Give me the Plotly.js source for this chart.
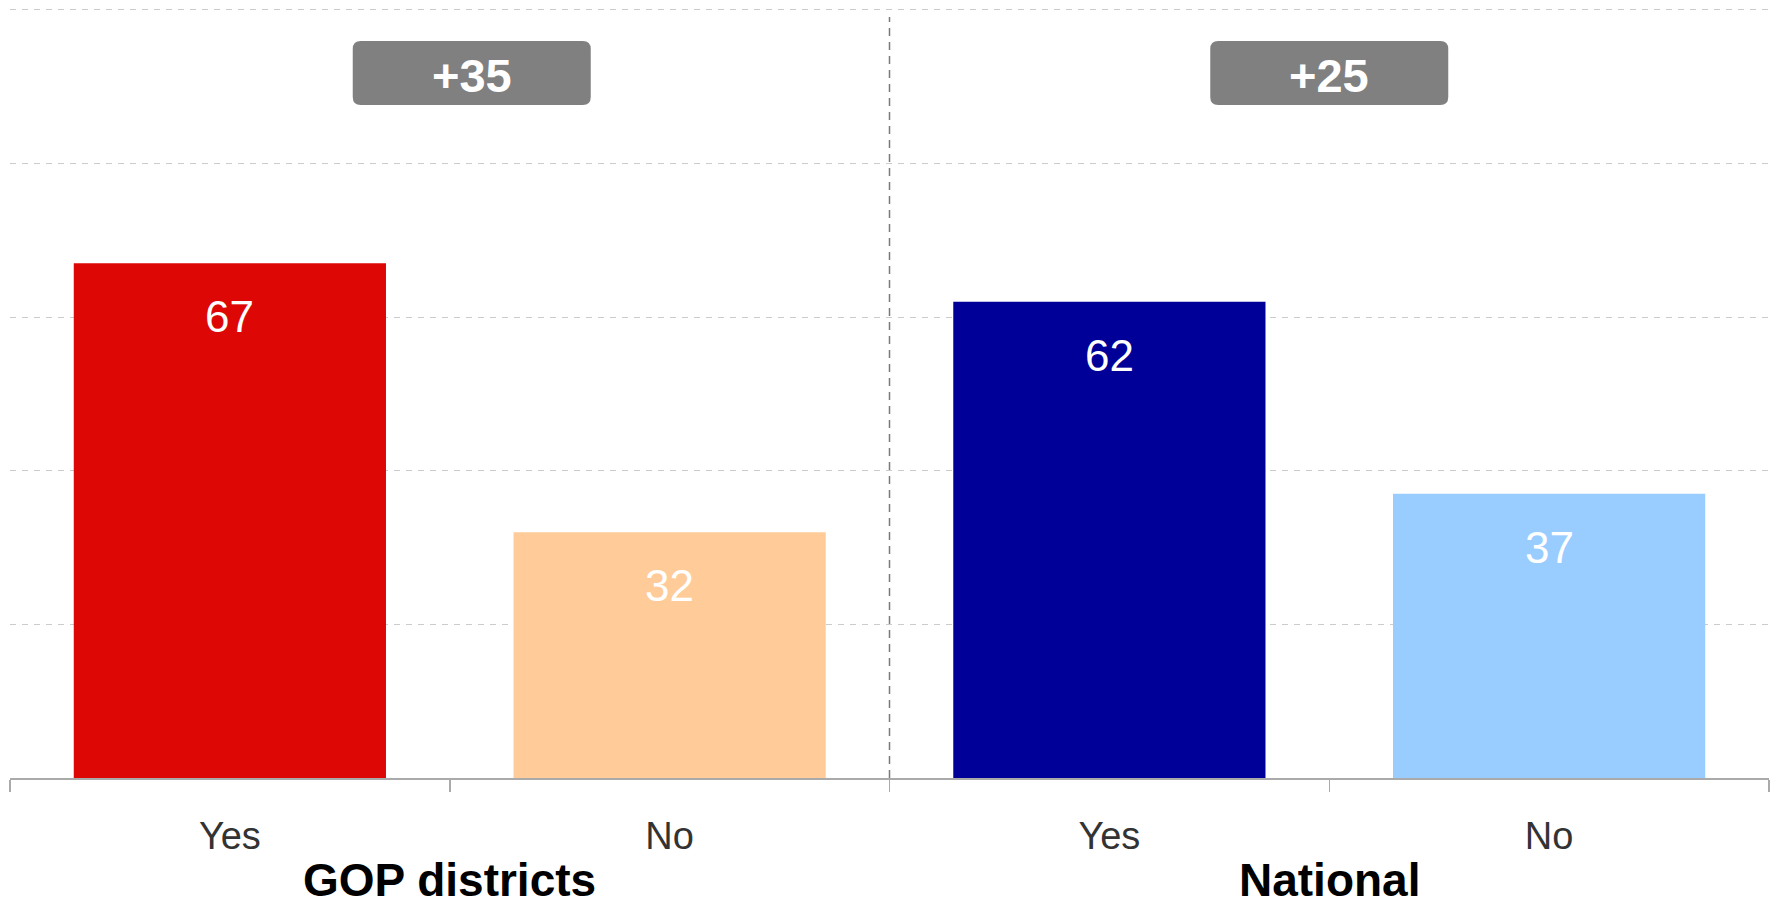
<!DOCTYPE html>
<html>
<head>
<meta charset="utf-8">
<script src="https://cdn.plot.ly/plotly-3.0.1.min.js"></script>
<style>
  html, body { margin: 0; padding: 0; background: #ffffff; }
  #chart { width: 1775px; height: 903px; }
</style>
</head>
<body>
<div id="chart"></div>
<script>
// ---- data ----
const groups = ['GOP districts', 'National'];
const answers = ['Yes', 'No'];
const gopValues = [67, 32];
const nationalValues = [62, 37];

// ---- build ----
const seriesByGroup = [gopValues, nationalValues];
const barColors = ['#DD0806', '#FFCC99', '#000099', '#99CCFF'];
const FONT = 'Liberation Sans, Arial, Helvetica, sans-serif';

const xKeys = [];
const yVals = [];
const tickText = [];
groups.forEach((g, gi) => {
  answers.forEach((a, ai) => {
    xKeys.push(g + ' ' + a);
    yVals.push(seriesByGroup[gi][ai]);
    tickText.push(a);
  });
});

const trace = {
  type: 'bar',
  x: xKeys,
  y: yVals,
  marker: { color: barColors, line: { width: 0 } },
  hoverinfo: 'skip',
  showlegend: false
};

const annotations = [];
// value labels inside bars
xKeys.forEach((k, i) => {
  annotations.push({
    x: k, y: yVals[i], xref: 'x', yref: 'y',
    text: String(yVals[i]),
    showarrow: false, yanchor: 'top', xanchor: 'center',
    yshift: -27,
    font: { family: FONT, size: 44, color: '#ffffff' }
  });
});

// group labels + difference badges
const plotBottomPx = 778, plotTopPx = 2;
const plotH = plotBottomPx - plotTopPx;
const pxToPaper = p => (plotBottomPx - p) / plotH;
const badgeCenters = [0.55, 2.5];
const groupCenters = [0.5, 2.5];
const shapes = [];
const bw = 119, bh = 32, r = 8;
const rrect = `M ${-bw + r} ${-bh} L ${bw - r} ${-bh} Q ${bw} ${-bh} ${bw} ${-bh + r} L ${bw} ${bh - r} Q ${bw} ${bh} ${bw - r} ${bh} L ${-bw + r} ${bh} Q ${-bw} ${bh} ${-bw} ${bh - r} L ${-bw} ${-bh + r} Q ${-bw} ${-bh} ${-bw + r} ${-bh} Z`;

groups.forEach((g, gi) => {
  const vals = seriesByGroup[gi];
  const diff = vals[0] - vals[1];
  annotations.push({
    x: groupCenters[gi], xref: 'x', y: pxToPaper(880), yref: 'paper',
    text: '<b>' + g + '</b>', showarrow: false,
    xanchor: 'center', yanchor: 'middle',
    font: { family: FONT, size: 46, color: '#000000' }
  });
  shapes.push({
    type: 'path', xref: 'x', yref: 'paper',
    xsizemode: 'pixel', ysizemode: 'pixel',
    xanchor: badgeCenters[gi], yanchor: pxToPaper(73),
    path: rrect,
    fillcolor: '#808080', line: { width: 0 }, layer: 'above'
  });
  annotations.push({
    x: badgeCenters[gi], xref: 'x', y: pxToPaper(75), yref: 'paper',
    text: '<b>' + (diff > 0 ? '+' : '') + diff + '</b>', showarrow: false,
    xanchor: 'center', yanchor: 'middle',
    font: { family: FONT, size: 47, color: '#ffffff' }
  });
});

// vertical dashed separator between groups
shapes.push({
  type: 'line', xref: 'x', yref: 'paper',
  x0: 1.5, x1: 1.5, y0: 0, y1: pxToPaper(17),
  line: { color: '#7a7a7a', width: 1.5, dash: '8px,6px' },
  layer: 'below'
});

const layout = {
  width: 1775, height: 903,
  margin: { l: 10, r: 6, t: plotTopPx, b: 903 - plotBottomPx, pad: 0 },
  paper_bgcolor: '#ffffff', plot_bgcolor: '#ffffff',
  bargap: 0.29,
  xaxis: {
    type: 'category',
    tickmode: 'array', tickvals: xKeys, ticktext: tickText,
    tickson: 'boundaries',
    ticks: 'outside', ticklen: 12, tickwidth: 1.5, tickcolor: '#aaaaaa',
    showline: true, linecolor: '#aaaaaa', linewidth: 1.5,
    showgrid: false, zeroline: false,
    ticklabelstandoff: 24,
    tickfont: { family: FONT, size: 38, color: '#333333' },
    fixedrange: true
  },
  yaxis: {
    range: [0, 101], tickmode: 'array', tickvals: [20, 40, 60, 80, 100],
    showticklabels: false, ticks: '',
    showgrid: true, gridcolor: '#cccccc', gridwidth: 1, griddash: '6px,6px',
    zeroline: false, showline: false, fixedrange: true
  },
  shapes: shapes,
  annotations: annotations,
  showlegend: false
};

Plotly.newPlot('chart', [trace], layout, { staticPlot: true, displayModeBar: false });
</script>
</body>
</html>
